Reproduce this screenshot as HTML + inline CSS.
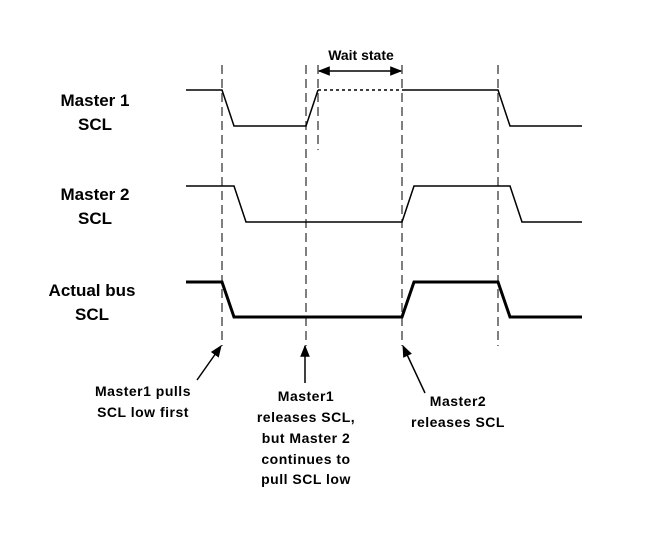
<!DOCTYPE html>
<html><head><style>
html,body{margin:0;padding:0;background:#fff;}
svg{display:block;}
text{font-family:"Liberation Sans",Arial,sans-serif;font-weight:bold;font-size:15px;fill:#000;}
</style></head><body>
<svg width="660" height="540" viewBox="0 0 660 540">
<defs>
<marker id="ah2" viewBox="0 0 10 10" refX="9" refY="5" markerWidth="12" markerHeight="12" orient="auto-start-reverse" markerUnits="userSpaceOnUse">
<path d="M0,1 L10,5 L0,9 z" fill="#000"/></marker>
</defs>
<g stroke="#555" stroke-width="1.5" stroke-dasharray="9,5" fill="none">
<line x1="222" y1="65" x2="222" y2="346"/>
<line x1="306" y1="65" x2="306" y2="346"/>
<line x1="402" y1="65" x2="402" y2="346"/>
<line x1="498" y1="65" x2="498" y2="346"/>
<line x1="318" y1="65" x2="318" y2="150"/>
</g>
<g stroke="#000" stroke-width="1.5" fill="none">
<polyline points="186,90 222,90 234,126 306,126 318,90"/>
<line x1="318" y1="90" x2="402" y2="90" stroke-dasharray="3,3"/>
<polyline points="402,90 498,90 510,126 582,126"/>
<polyline points="186,186 234,186 246,222 402,222 414,186 510,186 522,222 582,222"/>
<polyline points="186,282 222,282 234,317 402,317 414,282 498,282 510,317 582,317" stroke-width="3"/>
<line x1="319" y1="71" x2="401" y2="71" marker-start="url(#ah2)" marker-end="url(#ah2)"/>
<line x1="197" y1="380" x2="221" y2="346" marker-end="url(#ah2)"/>
<line x1="305" y1="383" x2="305" y2="346" marker-end="url(#ah2)"/>
<line x1="425" y1="393" x2="403" y2="346" marker-end="url(#ah2)"/>
</g>
<text x="361" y="60" text-anchor="middle" style="font-size:14px">Wait state</text>
<g text-anchor="middle">
<text x="95" y="106" style="font-size:17px">Master 1</text>
<text x="95" y="130" style="font-size:17px">SCL</text>
<text x="95" y="200" style="font-size:17px">Master 2</text>
<text x="95" y="224" style="font-size:17px">SCL</text>
<text x="92" y="296" style="font-size:17px">Actual bus</text>
<text x="92" y="320" style="font-size:17px">SCL</text>
</g>
<g text-anchor="middle" style="letter-spacing:0.5px">
<text x="143" y="396" style="font-size:14px">Master1 pulls</text>
<text x="143" y="417" style="font-size:14px">SCL low first</text>
<text x="306" y="401" style="font-size:14px">Master1</text>
<text x="306" y="422" style="font-size:14px">releases SCL,</text>
<text x="306" y="443" style="font-size:14px">but Master 2</text>
<text x="306" y="464" style="font-size:14px">continues to</text>
<text x="306" y="484" style="font-size:14px">pull SCL low</text>
<text x="458" y="406" style="font-size:14px">Master2</text>
<text x="458" y="427" style="font-size:14px">releases SCL</text>
</g>
</svg>
</body></html>
